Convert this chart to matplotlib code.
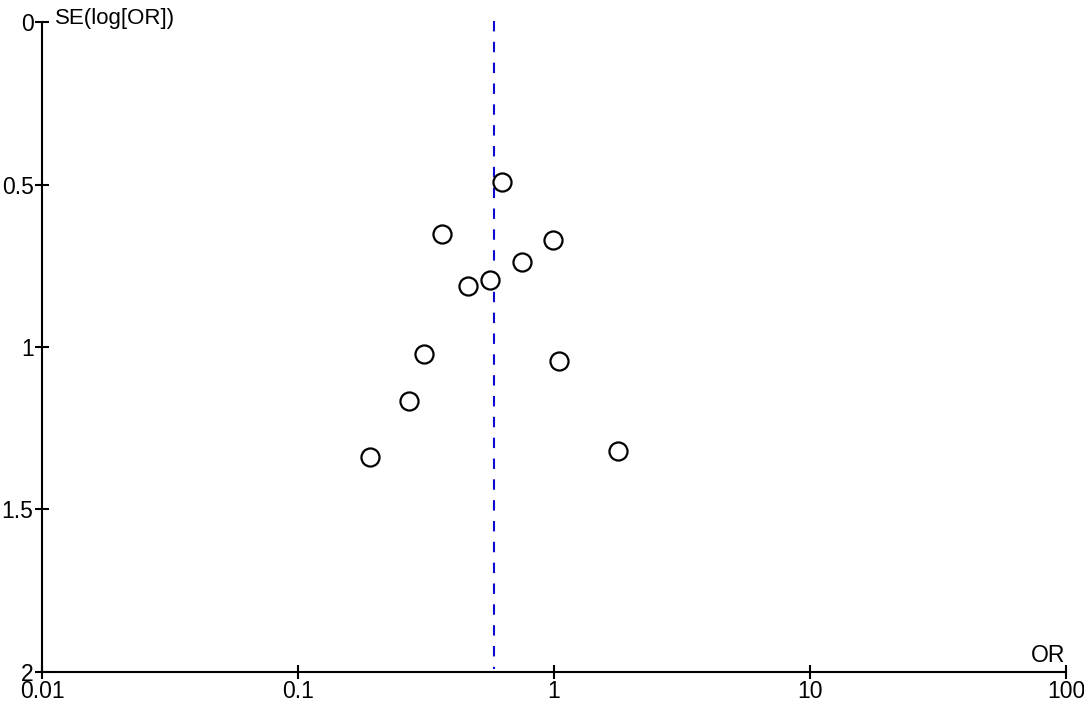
import numpy as np
import matplotlib.pyplot as plt

plt.rcParams['font.family'] = ['Liberation Sans', 'DejaVu Sans']

# study estimates
odds_ratio = [0.627, 0.365, 0.99, 0.75, 0.562, 0.461, 0.31, 1.046, 0.272, 1.78, 0.191]
se_log_or = [0.492, 0.652, 0.671, 0.738, 0.794, 0.812, 1.022, 1.043, 1.166, 1.32, 1.338]
pooled_or = 0.583

x_ticks = [0.01, 0.1, 1, 10, 100]
x_labels = ['0.01', '0.1', '1', '10', '100']
y_ticks = [0, 0.5, 1, 1.5, 2]
y_labels = ['0', '0.5', '1', '1.5', '2']

fig = plt.figure(figsize=(10.84, 7.06), dpi=100)
ax = fig.add_axes([0.0387, 0.0482, 0.9447, 0.9206])

ax.plot([pooled_or, pooled_or], [-0.004, 1.99], color='#0a0ad2', lw=1.5,
        dashes=(5, 5), clip_on=False, zorder=1)
ax.plot(odds_ratio, se_log_or, 'o', ms=13, mfc='white', mec='black', mew=1.6,
        clip_on=False, zorder=3)

ax.set_xscale('log')
ax.set_xlim(0.01, 100)
ax.set_ylim(2, 0)
ax.set_xticks(x_ticks)
ax.set_xticklabels(x_labels)
ax.minorticks_off()
ax.set_yticks(y_ticks)
ax.set_yticklabels(y_labels)

for side in ['top', 'right']:
    ax.spines[side].set_visible(False)
for side in ['left', 'bottom']:
    ax.spines[side].set_linewidth(1.5)
ax.tick_params(direction='inout', length=10, width=1.5, labelsize=16.5, pad=1)
ax.tick_params(axis='x', pad=1)

ax.text(0.0112, 0.007, 'SE(log[OR])', fontsize=16, ha='left', va='baseline')
ax.text(99, 1.985, 'OR', fontsize=16.5, ha='right', va='bottom')

fig.savefig('out.png', dpi=100)
